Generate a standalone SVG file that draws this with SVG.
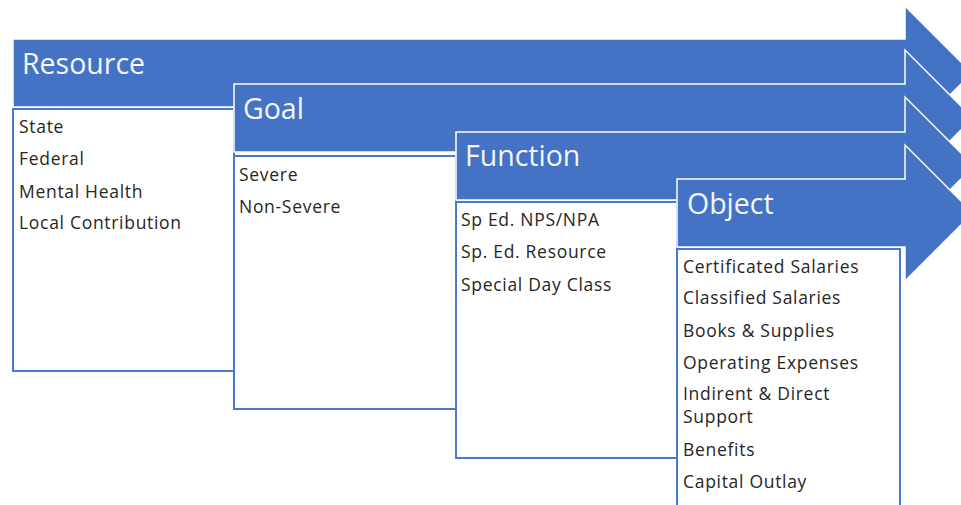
<svg xmlns="http://www.w3.org/2000/svg" width="961" height="505" viewBox="0 0 961 505">
<style>
.arrow{fill:#4472C4;stroke:#FFFFFF;stroke-width:1.5}
.box{fill:#FFFFFF;stroke:#4A78CC;stroke-width:2}
.title{font-family:"Open Sans","Liberation Sans",sans-serif;font-size:28.5px;fill:#F4F6FB}
.item{font-family:"Open Sans","Liberation Sans",sans-serif;font-size:17.5px;letter-spacing:0.7px;fill:#262626}
</style>
<rect width="961" height="505" fill="#FFFFFF"/>
<g id="resource">
<path class="arrow" d="M13,39 H905 V6 L972,73 L905,140 V107 H13 Z"/>
<text class="title" x="22" y="74">Resource</text>
<rect class="box" x="13" y="109" width="221" height="262"/>
<text class="item" x="19" y="133">State</text>
<text class="item" x="19" y="165">Federal</text>
<text class="item" x="19" y="198">Mental Health</text>
<text class="item" x="19" y="229">Local Contribution</text>
</g>
<g id="goal">
<path class="arrow" d="M234,84 H905 V50 L973,118 L905,186 V152 H234 Z"/>
<text class="title" x="243" y="119">Goal</text>
<rect class="box" x="234" y="156" width="222" height="253"/>
<text class="item" x="239" y="181">Severe</text>
<text class="item" x="239" y="213">Non-Severe</text>
</g>
<g id="function">
<path class="arrow" d="M456,132 H905 V97 L974,166 L905,235 V200 H456 Z"/>
<text class="title" x="465" y="166">Function</text>
<rect class="box" x="456" y="202" width="221" height="256"/>
<text class="item" x="461" y="226">Sp Ed. NPS/NPA</text>
<text class="item" x="461" y="258">Sp. Ed. Resource</text>
<text class="item" x="461" y="291">Special Day Class</text>
</g>
<g id="object">
<path class="arrow" d="M677,179 H905 V145 L973,213 L905,281 V247 H677 Z"/>
<text class="title" x="687" y="214">Object</text>
<rect class="box" x="677" y="249" width="223" height="270"/>
<text class="item" x="683" y="273">Certificated Salaries</text>
<text class="item" x="683" y="304">Classified Salaries</text>
<text class="item" x="683" y="337">Books &amp; Supplies</text>
<text class="item" x="683" y="369">Operating Expenses</text>
<text class="item" x="683" y="400">Indirent &amp; Direct</text>
<text class="item" x="683" y="423">Support</text>
<text class="item" x="683" y="456">Benefits</text>
<text class="item" x="683" y="488">Capital Outlay</text>
</g>
<g id="connectors"></g>
</svg>
